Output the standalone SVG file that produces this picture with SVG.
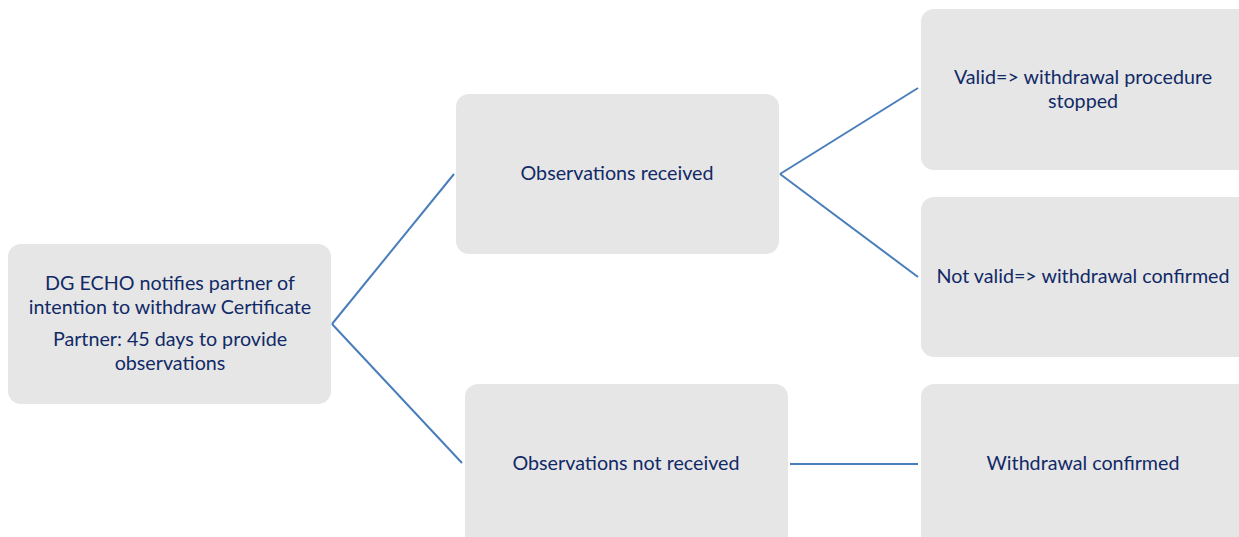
<svg xmlns="http://www.w3.org/2000/svg" width="1239" height="537" viewBox="0 0 1239 537">
  <style>
    .box { fill: #e6e6e6; }
    .lbl { font-family: Lato, "Liberation Sans", sans-serif; font-size: 19.7px; fill: #112a66; text-anchor: middle; }
    .conn { stroke: #4a7ebb; stroke-width: 2; fill: none; }
  </style>
  <rect width="1239" height="537" fill="#ffffff"/>

  <g id="connectors">
    <line class="conn" x1="332" y1="324" x2="454" y2="174"/>
    <line class="conn" x1="332" y1="324" x2="462" y2="463"/>
    <line class="conn" x1="780" y1="174" x2="918" y2="88"/>
    <line class="conn" x1="780" y1="174" x2="918" y2="277"/>
    <line class="conn" x1="790" y1="464" x2="918" y2="464"/>
  </g>

  <g id="notify">
    <rect class="box" x="8" y="244" width="323" height="160" rx="13"/>
    <text class="lbl" x="170" y="290">DG ECHO notifies partner of</text>
    <text class="lbl" x="170" y="314">intention to withdraw Certificate</text>
    <text class="lbl" x="170" y="346">Partner: 45 days to provide</text>
    <text class="lbl" x="170" y="370">observations</text>
  </g>

  <g id="received">
    <rect class="box" x="456" y="94" width="323" height="160" rx="13"/>
    <text class="lbl" x="617" y="180">Observations received</text>
  </g>

  <g id="not-received">
    <rect class="box" x="465" y="384" width="323" height="168" rx="13"/>
    <text class="lbl" x="626" y="470">Observations not received</text>
  </g>

  <g id="valid">
    <rect class="box" x="921" y="9" width="330" height="161" rx="13"/>
    <text class="lbl" x="1083" y="84">Valid=&gt; withdrawal procedure</text>
    <text class="lbl" x="1083" y="108">stopped</text>
  </g>

  <g id="not-valid">
    <rect class="box" x="921" y="197" width="330" height="160" rx="13"/>
    <text class="lbl" x="1083" y="283">Not valid=&gt; withdrawal confirmed</text>
  </g>

  <g id="confirmed">
    <rect class="box" x="921" y="384" width="330" height="168" rx="13"/>
    <text class="lbl" x="1083" y="470">Withdrawal confirmed</text>
  </g>
</svg>
